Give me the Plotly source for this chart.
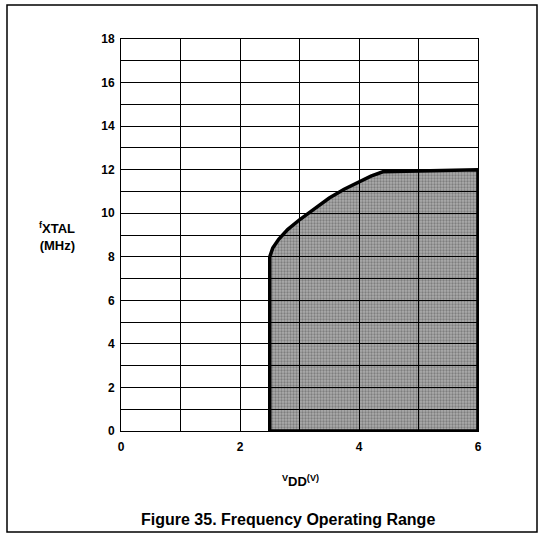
import plotly.graph_objects as go

# boundary of the operating region (upper curve), V_DD in volts, f_XTAL in MHz
vdd = [2.5, 2.55, 2.65, 2.8, 3.0, 3.25, 3.5, 3.75, 4.0, 4.2, 4.4, 6.0]
fxtal = [8.0, 8.4, 8.8, 9.25, 9.7, 10.2, 10.7, 11.1, 11.45, 11.7, 11.9, 12.0]

x_ticks = [0, 2, 4, 6]
y_ticks = [0, 2, 4, 6, 8, 10, 12, 14, 16, 18]

W, H = 545, 536
L, R, T, B = 121, 67, 39, 105
pw, ph = W - L - R, H - T - B

def px(x):
    return (x - L) / pw

def py(y):
    return (H - B - y) / ph

# closed polygon: down to 0 on both sides
xs = [vdd[0]] + vdd + [vdd[-1], vdd[0]]
ys = [0] + fxtal + [0, 0]

fig = go.Figure()
fig.add_trace(go.Scatter(
    x=xs, y=ys, mode="lines", fill="toself",
    fillcolor="rgba(0,0,0,0.38)",
    fillpattern=dict(shape=".", size=3, solidity=0.45,
                     fgcolor="rgba(0,0,0,0.55)", bgcolor="rgba(0,0,0,0.32)"),
    line=dict(color="black", width=3.5),
    hoverinfo="skip", showlegend=False,
))

font = dict(family="Liberation Sans, Arial, sans-serif", color="black")

fig.update_layout(
    width=W, height=H,
    margin=dict(l=L, r=R, t=T, b=B),
    paper_bgcolor="white", plot_bgcolor="white",
    font=font,
    xaxis=dict(range=[0, 6], tickvals=x_ticks, ticktext=[f"<b>{v}</b>" for v in x_ticks],
               showgrid=True, gridcolor="black", gridwidth=1, zeroline=False,
               minor=dict(dtick=1, showgrid=True, gridcolor="black", gridwidth=1),
               showline=True, mirror=True, linecolor="black", linewidth=1,
               ticks="", ticklabelstandoff=5,
               tickfont=dict(size=12, **font), layer="above traces"),
    yaxis=dict(range=[0, 18], tickvals=y_ticks, ticktext=[f"<b>{v}</b>" for v in y_ticks],
               showgrid=True, gridcolor="black", gridwidth=1, zeroline=False,
               minor=dict(dtick=1, showgrid=True, gridcolor="black", gridwidth=1),
               showline=True, mirror=True, linecolor="black", linewidth=1,
               ticks="", ticklabelstandoff=3,
               tickfont=dict(size=12, **font), layer="above traces"),
)

fig.add_annotation(x=px(77), y=py(236), xref="paper", yref="paper",
                   xanchor="right", yanchor="middle", showarrow=False, align="right",
                   text="<b><sup>f</sup>XTAL<br>(MHz)</b>",
                   font=dict(size=13, **font))
fig.add_annotation(x=px(300), y=py(481), xref="paper", yref="paper",
                   xanchor="center", yanchor="middle", showarrow=False,
                   text="<b><sup>V</sup>DD<sup>(V)</sup></b>",
                   font=dict(size=13, **font))
fig.add_annotation(x=px(288), y=py(519), xref="paper", yref="paper",
                   xanchor="center", yanchor="middle", showarrow=False,
                   text="<b>Figure 35. Frequency Operating Range</b>",
                   font=dict(size=16, **font))

# outer frame around the whole figure
fig.add_shape(type="rect", xref="paper", yref="paper",
              x0=px(7), x1=px(537), y0=py(532), y1=py(5),
              line=dict(color="black", width=1.5))

fig.write_html("out.html", config={"displayModeBar": False},
               post_script="document.body.style.margin='0';")
